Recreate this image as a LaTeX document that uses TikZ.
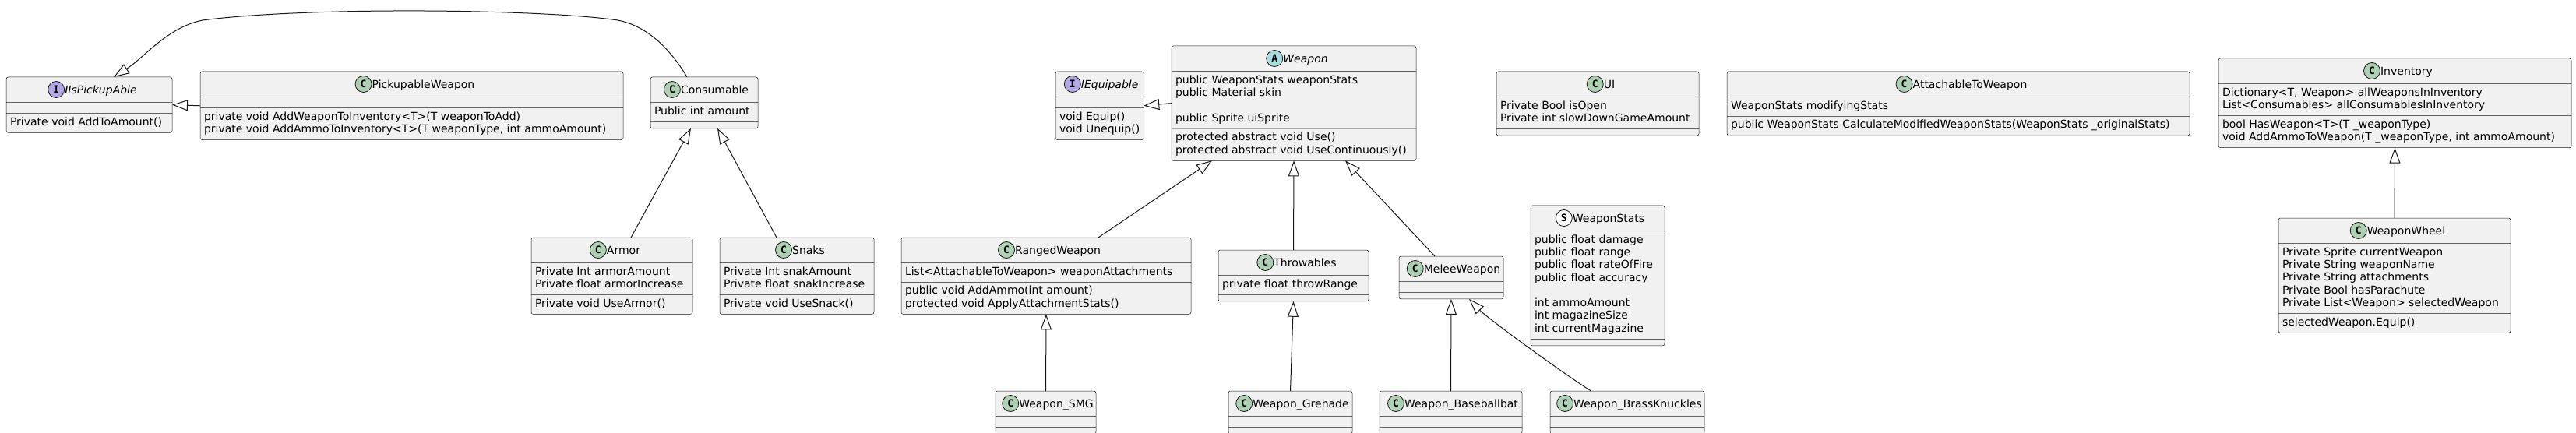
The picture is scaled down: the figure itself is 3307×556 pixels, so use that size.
\documentclass[tikz,border=0pt]{standalone}
\usepackage{fontspec}
\setmainfont{DejaVu Sans}
\newfontfamily\badgefont{DejaVu Sans Mono}
\usetikzlibrary{shapes.multipart,arrows.meta}
\definecolor{boxfill}{HTML}{F1F1F1}
\definecolor{boxline}{HTML}{181818}
\definecolor{spotC}{HTML}{ADD1B2}
\definecolor{spotI}{HTML}{B4A7E5}
\definecolor{spotA}{HTML}{A9DCDF}
\definecolor{spotS}{HTML}{FFFFFF}
\newcommand\ClassHead{\hspace*{1pt}\rule{0pt}{24pt}}
\newcommand\ClassGap{\hspace*{1pt}}
\newcommand\ClassRows[1]{\begin{tabular}{@{}l@{}}#1\end{tabular}}

\begin{document}
\begin{tikzpicture}[x=1pt,y=-1pt,font=\fontsize{14}{16.3}\selectfont]
  \tikzset{ClassStyle/.style = {rectangle split,
                                rectangle split parts            = 3,
                                rectangle split part align       = left,
                                rectangle split empty part height = 0pt,
                                draw           = boxline,
                                line width     = 0.5pt,
                                fill           = boxfill,
                                rounded corners = 2.5pt,
                                inner xsep     = 5pt,
                                inner ysep     = 4pt,
                                outer sep      = 0pt,
                                anchor         = north west}}
  \tikzset{TitleStyle/.style = {inner sep      = 0pt,
                                text height    = 11pt,
                                text depth     = 0pt,
                                anchor         = base,
                                label distance = 9pt}}
  \tikzset{TightTitle/.style = {TitleStyle,
                                label distance = 6pt}}
  \tikzset{BadgeStyle/.style = {circle,
                                draw           = boxline,
                                line width     = 0.8pt,
                                minimum size   = 21pt,
                                inner sep      = 0pt,
                                text height    = 9pt,
                                text depth     = 0pt,
                                font           = \badgefont\bfseries\fontsize{13}{13}\selectfont}}
  \tikzset{BadgeC/.style = {BadgeStyle, fill = spotC}}
  \tikzset{BadgeI/.style = {BadgeStyle, fill = spotI}}
  \tikzset{BadgeA/.style = {BadgeStyle, fill = spotA}}
  \tikzset{BadgeS/.style = {BadgeStyle, fill = spotS}}
  \tikzset{ExtendsStyle/.style = {draw = boxline,
                                  line width = 1pt,
                                  -{Triangle[open, length = 20pt, width = 14pt, line width = 1pt]}}}

\useasboundingbox (0,0) rectangle (3307,556);

\node[ClassStyle, minimum width=213pt] (IIsPickupAble) at (8,99) {\ClassHead
  \nodepart{two}\ClassGap
  \nodepart{three}\ClassRows{Private void AddToAmount()}};
\node[TitleStyle, label={[BadgeI, name=IIsPickupAbleSpot]left:I}] (IIsPickupAbleTitle)
  at ([xshift=15pt,yshift=-21.5pt]IIsPickupAble.north) {\itshape IIsPickupAble};

\node[ClassStyle, minimum width=543pt] (PickupableWeapon) at (257,92) {\ClassHead
  \nodepart{two}\ClassGap
  \nodepart{three}\ClassRows{private void AddWeaponToInventory<T>(T weaponToAdd)\\private void AddAmmoToInventory<T>(T weaponType, int ammoAmount)}};
\node[TitleStyle, label={[BadgeC, name=PickupableWeaponSpot]left:C}] (PickupableWeaponTitle)
  at ([xshift=15pt,yshift=-21.5pt]PickupableWeapon.north) {PickupableWeapon};

\node[ClassStyle, minimum width=138pt] (Consumable) at (835,99) {\ClassHead
  \nodepart{two}\ClassRows{Public int amount}
  \nodepart{three}\ClassGap};
\node[TightTitle, label={[BadgeC, name=ConsumableSpot]left:C}] (ConsumableTitle)
  at ([xshift=13.5pt,yshift=-21.5pt]Consumable.north) {Consumable};

\node[ClassStyle, minimum width=207pt] (Armor) at (682,305) {\ClassHead
  \nodepart{two}\ClassRows{Private Int armorAmount\\Private float armorIncrease}
  \nodepart{three}\ClassRows{Private void UseArmor()}};
\node[TitleStyle, label={[BadgeC, name=ArmorSpot]left:C}] (ArmorTitle)
  at ([xshift=15pt,yshift=-21.5pt]Armor.north) {Armor};

\node[ClassStyle, minimum width=198pt] (Snaks) at (924,305) {\ClassHead
  \nodepart{two}\ClassRows{Private Int snakAmount\\Private float snakIncrease}
  \nodepart{three}\ClassRows{Private void UseSnack()}};
\node[TitleStyle, label={[BadgeC, name=SnaksSpot]left:C}] (SnaksTitle)
  at ([xshift=15pt,yshift=-21.5pt]Snaks.north) {Snaks};

\node[ClassStyle, minimum width=113pt] (IEquipable) at (1355,92) {\ClassHead
  \nodepart{two}\ClassGap
  \nodepart{three}\ClassRows{void Equip()\\void Unequip()}};
\node[TightTitle, label={[BadgeI, name=IEquipableSpot]left:I}] (IEquipableTitle)
  at ([xshift=13pt,yshift=-21.5pt]IEquipable.north) {\itshape IEquipable};

\node[ClassStyle, minimum width=314pt] (Weapon) at (1504,59) {\ClassHead
  \nodepart{two}\ClassRows{public WeaponStats weaponStats\\public Material skin\\ \\public Sprite uiSprite}
  \nodepart{three}\ClassRows{protected abstract void Use()\\protected abstract void UseContinuously()}};
\node[TitleStyle, label={[BadgeA, name=WeaponSpot]left:A}] (WeaponTitle)
  at ([xshift=15pt,yshift=-21.5pt]Weapon.north) {\itshape Weapon};

\node[ClassStyle, minimum width=372pt] (RangedWeapon) at (1157,305) {\ClassHead
  \nodepart{two}\ClassRows{List<AttachableToWeapon> weaponAttachments}
  \nodepart{three}\ClassRows{public void AddAmmo(int amount)\\protected void ApplyAttachmentStats()}};
\node[TitleStyle, label={[BadgeC, name=RangedWeaponSpot]left:C}] (RangedWeaponTitle)
  at ([xshift=15pt,yshift=-21.5pt]RangedWeapon.north) {RangedWeapon};

\node[ClassStyle, minimum width=193pt] (Throwables) at (1564,321) {\ClassHead
  \nodepart{two}\ClassRows{private float throwRange}
  \nodepart{three}\ClassGap};
\node[TitleStyle, label={[BadgeC, name=ThrowablesSpot]left:C}] (ThrowablesTitle)
  at ([xshift=15pt,yshift=-21.5pt]Throwables.north) {Throwables};

\node[ClassStyle, minimum width=134pt] (MeleeWeapon) at (1796,329) {\ClassHead
  \nodepart{two}\ClassGap
  \nodepart{three}\ClassGap};
\node[TightTitle, label={[BadgeC, name=MeleeWeaponSpot]left:C}] (MeleeWeaponTitle)
  at ([xshift=14pt,yshift=-21.5pt]MeleeWeapon.north) {MeleeWeapon};

\node[ClassStyle, minimum width=172pt] (WeaponStats) at (1965,264) {\ClassHead
  \nodepart{two}\ClassRows{public float damage\\public float range\\public float rateOfFire\\public float accuracy\\ \\int ammoAmount\\int magazineSize\\int currentMagazine}
  \nodepart{three}\ClassGap};
\node[TitleStyle, label={[BadgeS, name=WeaponStatsSpot]left:S}] (WeaponStatsTitle)
  at ([xshift=14pt,yshift=-21.5pt]WeaponStats.north) {WeaponStats};

\node[ClassStyle, minimum width=129pt] (WeaponSMG) at (1278,502) {\ClassHead
  \nodepart{two}\ClassGap
  \nodepart{three}\ClassGap};
\node[TightTitle, label={[BadgeC, name=WeaponSMGSpot]left:C}] (WeaponSMGTitle)
  at ([xshift=13.5pt,yshift=-21.5pt]WeaponSMG.north) {Weapon\_SMG};

\node[ClassStyle, minimum width=159pt] (WeaponGrenade) at (1577,502) {\ClassHead
  \nodepart{two}\ClassGap
  \nodepart{three}\ClassGap};
\node[TightTitle, label={[BadgeC, name=WeaponGrenadeSpot]left:C}] (WeaponGrenadeTitle)
  at ([xshift=13.5pt,yshift=-21.5pt]WeaponGrenade.north) {Weapon\_Grenade};

\node[ClassStyle, minimum width=183pt] (WeaponBaseballbat) at (1771,502) {\ClassHead
  \nodepart{two}\ClassGap
  \nodepart{three}\ClassGap};
\node[TightTitle, label={[BadgeC, name=WeaponBaseballbatSpot]left:C}] (WeaponBaseballbatTitle)
  at ([xshift=13.5pt,yshift=-21.5pt]WeaponBaseballbat.north) {Weapon\_Baseballbat};

\node[ClassStyle, minimum width=198pt] (WeaponBrassKnuckles) at (1990,502) {\ClassHead
  \nodepart{two}\ClassGap
  \nodepart{three}\ClassGap};
\node[TightTitle, label={[BadgeC, name=WeaponBrassKnucklesSpot]left:C}] (WeaponBrassKnucklesTitle)
  at ([xshift=13.5pt,yshift=-21.5pt]WeaponBrassKnuckles.north) {Weapon\_BrassKnuckles};

\node[ClassStyle, minimum width=260pt] (UI) at (1921,92) {\ClassHead
  \nodepart{two}\ClassRows{Private Bool isOpen\\Private int slowDownGameAmount}
  \nodepart{three}\ClassGap};
\node[TitleStyle, label={[BadgeC, name=UISpot]left:C}] (UITitle)
  at ([xshift=15pt,yshift=-21.5pt]UI.north) {UI};

\node[ClassStyle, minimum width=594pt] (AttachableToWeapon) at (2217,92) {\ClassHead
  \nodepart{two}\ClassRows{WeaponStats modifyingStats}
  \nodepart{three}\ClassRows{public WeaponStats CalculateModifiedWeaponStats(WeaponStats \_originalStats)}};
\node[TitleStyle, label={[BadgeC, name=AttachableToWeaponSpot]left:C}] (AttachableToWeaponTitle)
  at ([xshift=15pt,yshift=-21.5pt]AttachableToWeapon.north) {AttachableToWeapon};

\node[ClassStyle, minimum width=453pt] (Inventory) at (2848,75) {\ClassHead
  \nodepart{two}\ClassRows{Dictionary<T, Weapon> allWeaponsInInventory\\List<Consumables> allConsumablesInInventory}
  \nodepart{three}\ClassRows{bool HasWeapon<T>(T \_weaponType)\\void AddAmmoToWeapon(T \_weaponType, int ammoAmount)}};
\node[TitleStyle, label={[BadgeC, name=InventorySpot]left:C}] (InventoryTitle)
  at ([xshift=15pt,yshift=-21.5pt]Inventory.north) {Inventory};

\node[ClassStyle, minimum width=298pt] (WeaponWheel) at (2925,280) {\ClassHead
  \nodepart{two}\ClassRows{Private Sprite currentWeapon\\Private String weaponName\\Private String attachments\\Private Bool hasParachute\\Private List<Weapon> selectedWeapon}
  \nodepart{three}\ClassRows{selectedWeapon.Equip()}};
\node[TitleStyle, label={[BadgeC, name=WeaponWheelSpot]left:C}] (WeaponWheelTitle)
  at ([xshift=15pt,yshift=-21.5pt]WeaponWheel.north) {WeaponWheel};

\draw[ExtendsStyle] (PickupableWeapon.west) -- (IIsPickupAble.east);
\draw[ExtendsStyle] ([xshift=-22pt]Consumable.north) .. controls (860,62) and (830,33) .. (793,26)
  .. controls (700,12) and (400,8) .. (260,26)
  .. controls (215,35) and (185,74) .. ([xshift=31.5pt]IIsPickupAble.north);
\draw[ExtendsStyle] ([xshift=24.5pt]Armor.north) -- ([xshift=-17pt]Consumable.south);
\draw[ExtendsStyle] ([xshift=-26pt]Snaks.north) -- ([xshift=17pt]Consumable.south);
\draw[ExtendsStyle] (Weapon.west) -- (IEquipable.east);
\draw[ExtendsStyle] ([xshift=67pt]RangedWeapon.north) -- ([xshift=-105pt]Weapon.south);
\draw[ExtendsStyle] (Throwables.north) -- (Weapon.south);
\draw[ExtendsStyle] ([xshift=-21pt]MeleeWeapon.north) -- ([xshift=66pt]Weapon.south);
\draw[ExtendsStyle] (WeaponSMG.north) -- (RangedWeapon.south);
\draw[ExtendsStyle] (WeaponGrenade.north) -- (Throwables.south);
\draw[ExtendsStyle] (WeaponBaseballbat.north) -- (MeleeWeapon.south);
\draw[ExtendsStyle] ([xshift=-46.5pt]WeaponBrassKnuckles.north) .. controls (2003,477) and (1909,408) .. ([xshift=23pt]MeleeWeapon.south);
\draw[ExtendsStyle] (WeaponWheel.north) -- (Inventory.south);

\end{tikzpicture}
\end{document}
